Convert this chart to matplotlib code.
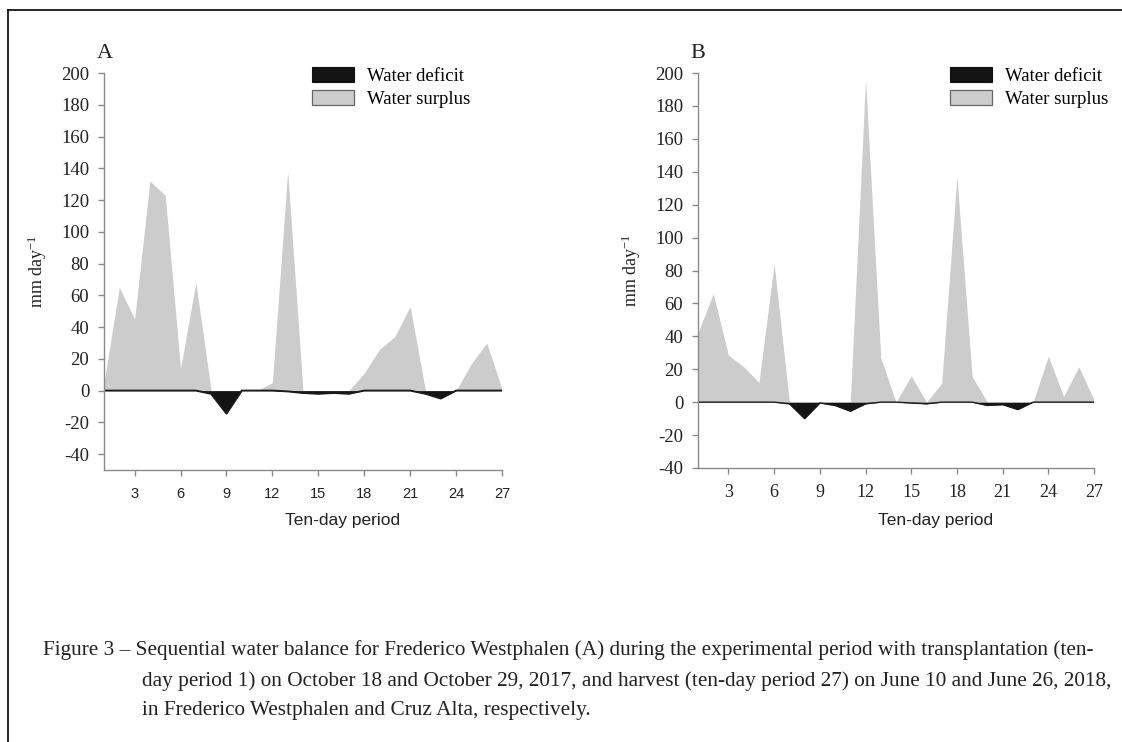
import numpy as np
import matplotlib.pyplot as plt
from matplotlib.patches import Patch
from matplotlib.lines import Line2D

plt.rcParams['axes.unicode_minus'] = False
plt.rcParams['mathtext.default'] = 'regular'

periods = np.arange(1, 28)

# Frederico Westphalen (A)
surplus_a = [5, 65, 45, 132, 123, 14, 68, 0, 0, 0, 0, 5, 138, 0, 0, 0, 0,
             11, 26, 34, 53, 0, 0, 0, 17, 30, 1]
deficit_a = [0, 0, 0, 0, 0, 0, 0, -2, -14.5, 0, 0, 0, -0.5, -1.5, -2, -1.5, -2,
             0, 0, 0, 0, -2, -5, 0, 0, 0, 0]

# Cruz Alta (B)
surplus_b = [42, 66, 28.5, 21.5, 12, 84, 0, 0, 0, 0, 0, 196, 27, 0, 16, 0, 11.5,
             137, 15.5, 0, 0, 0, 0, 28, 3.5, 21.5, 1.5]
deficit_b = [0, 0, 0, 0, 0, 0, -1, -10, -0.5, -2, -5.5, -1, 0, 0, -0.5, -1, 0,
             0, 0, -2, -1.5, -4.5, 0, 0, 0, 0, 0]

xticks = [3, 6, 9, 12, 15, 18, 21, 24, 27]

serif = 'Liberation Serif'
sans = 'Liberation Sans'
grey_fill = '#cccccc'
dark_fill = '#141414'
spine_col = '#8a8a8a'
txt = '#222222'

W, H = 1122, 742
fig = plt.figure(figsize=(W / 100, H / 100), dpi=100)


def px(l, t, r, b):
    return [l / W, 1 - b / H, (r - l) / W, (b - t) / H]


def panel(rect, surplus, deficit, ylow, letter, xtick_font, leg_x, base_lw):
    ax = fig.add_axes(rect)
    ax.fill_between(periods, 0, surplus, color=grey_fill, lw=0)
    ax.fill_between(periods, 0, deficit, color=dark_fill, lw=0)
    ax.plot(periods, deficit, color='#1a1a1a', lw=base_lw)
    ax.set_xlim(1, 27)
    ax.set_ylim(ylow, 200)
    ax.set_xticks(xticks)
    ax.set_yticks(np.arange(-40, 201, 20))
    for s in ['top', 'right']:
        ax.spines[s].set_visible(False)
    for s in ['left', 'bottom']:
        ax.spines[s].set_color(spine_col)
        ax.spines[s].set_linewidth(1.0)
    ax.tick_params(direction='out', length=4.2, width=1, color=spine_col,
                   labelcolor=txt)
    ax.tick_params(axis='y', pad=6.5)
    ax.tick_params(axis='x', pad=8 if xtick_font == sans else 7)
    for lab in ax.get_yticklabels():
        lab.set_fontfamily(serif)
        lab.set_fontsize(13.5)
    for lab in ax.get_xticklabels():
        lab.set_fontfamily(xtick_font)
        lab.set_fontsize(10.5 if xtick_font == sans else 13)
    ax.set_xlabel('Ten-day period', fontfamily=sans, fontsize=12.5,
                  color=txt, labelpad=9)
    ax.xaxis.label.set_x(0.6)
    ax.set_ylabel('mm day$^{\\mathregular{-1}}$', fontfamily=serif, fontsize=13,
                  color=txt, labelpad=9)
    ax.text(-0.018, 1.038, letter, transform=ax.transAxes, fontfamily=serif,
            fontsize=16, ha='left', va='baseline', color=txt)
    handles = [Patch(facecolor=dark_fill, edgecolor='#111111', lw=0.8,
                     label='Water deficit'),
               Patch(facecolor=grey_fill, edgecolor='#666666', lw=0.9,
                     label='Water surplus')]
    ax.legend(handles=handles, loc='upper left', bbox_to_anchor=(leg_x, 1.016),
              frameon=False, borderaxespad=0, borderpad=0, handlelength=2.25,
              handleheight=0.85, handletextpad=0.7, labelspacing=0.3,
              prop={'family': serif, 'size': 13.5})
    return ax


panel(px(104, 73, 502, 470), surplus_a, deficit_a, -50, 'A', sans, 0.523, 1.4)
panel(px(698, 73, 1094, 468), surplus_b, deficit_b, -40, 'B', serif, 0.636, 1.0)

# page frame
fig.add_artist(Line2D([8 / W, 1], [1 - 10 / H, 1 - 10 / H], color='black', lw=1.2))
fig.add_artist(Line2D([8 / W, 8 / W], [1 - 10 / H, 0], color='black', lw=1.2))

caption = [
    (43, 650, 'Figure 3 \u2013 Sequential water balance for Frederico Westphalen (A) during the experimental period with transplantation (ten-'),
    (142, 681, 'day period 1) on October 18 and October 29, 2017, and harvest (ten-day period 27) on June 10 and June 26, 2018,'),
    (142, 711, 'in Frederico Westphalen and Cruz Alta, respectively.'),
]
for x, y, t in caption:
    fig.text(x / W, 1 - y / H, t, fontfamily=serif, fontsize=15.3,
             ha='left', va='center', color=txt)

fig.savefig('out.png', dpi=100)
